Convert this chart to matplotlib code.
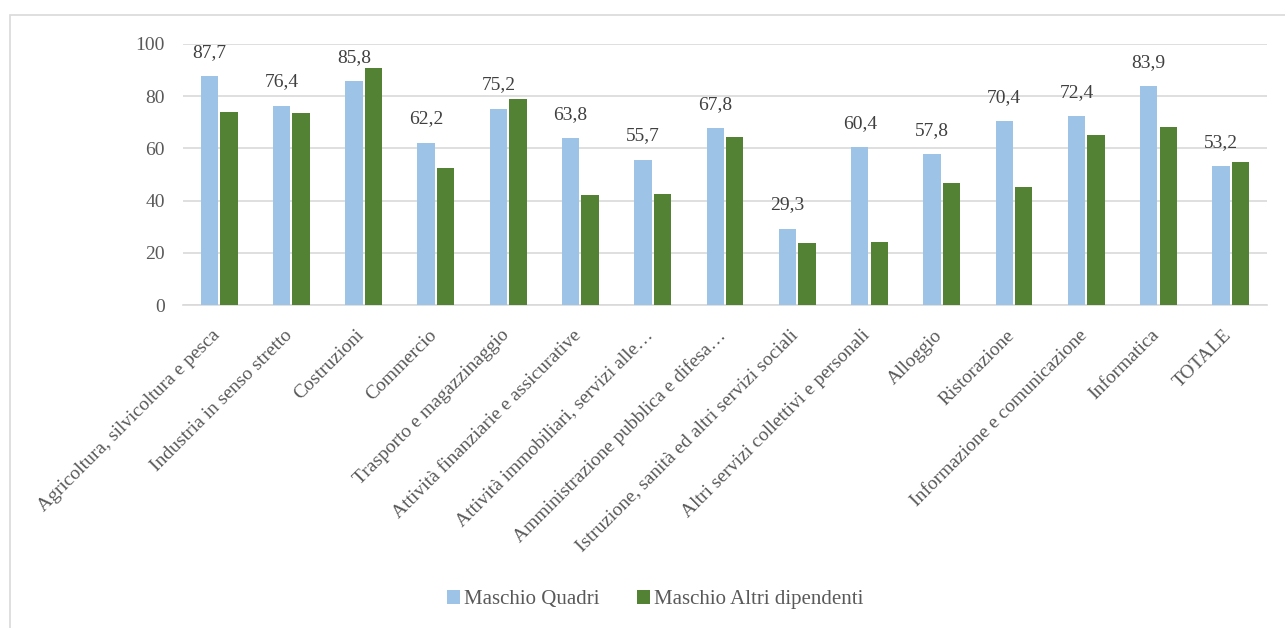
import matplotlib
matplotlib.use("Agg")
import matplotlib.pyplot as plt
import matplotlib.transforms as mtransforms
import numpy as np

categories = [
    "Agricoltura, silvicoltura e pesca",
    "Industria in senso stretto",
    "Costruzioni",
    "Commercio",
    "Trasporto e magazzinaggio",
    "Attività finanziarie e assicurative",
    "Attività immobiliari, servizi alle…",
    "Amministrazione pubblica e difesa…",
    "Istruzione, sanità ed altri servizi sociali",
    "Altri servizi collettivi e personali",
    "Alloggio",
    "Ristorazione",
    "Informazione e comunicazione",
    "Informatica",
    "TOTALE",
]
quadri = [87.7, 76.4, 85.8, 62.2, 75.2, 63.8, 55.7, 67.8, 29.3, 60.4, 57.8, 70.4, 72.4, 83.9, 53.2]
altri = [73.9, 73.6, 90.8, 52.5, 78.9, 42.1, 42.5, 64.2, 23.6, 24.1, 46.6, 45.3, 65.0, 68.1, 54.7]

blue = "#9dc3e6"
green = "#548235"
txt = "#595959"

plt.rcParams["font.family"] = ["Liberation Serif", "DejaVu Serif"]

fig = plt.figure(figsize=(12.85, 6.28), dpi=100)
ax = fig.add_axes([0.1424, 0.5143, 0.8435, 0.4157])

# chart frame
fig.patches.append(plt.Rectangle((10/1285, -0.01), 1.0, 1 - 15/628 + 0.01,
                                 transform=fig.transFigure, fill=False,
                                 edgecolor="#d9d9d9", linewidth=1.2))

x = np.arange(len(categories))
w = 0.24
b1 = ax.bar(x - 0.135, quadri, w, color=blue, label="Maschio Quadri", zorder=3)
b2 = ax.bar(x + 0.135, altri, w, color=green, label="Maschio Altri dipendenti", zorder=3)

labels = [f"{v:.1f}".replace(".", ",") for v in quadri]
ax.bar_label(b1, labels=labels, padding=11, fontsize=14, color="#404040")

ax.set_xlim(-0.5, len(categories) - 0.5)
ax.set_ylim(0, 100)
ax.set_yticks(range(0, 101, 20))
ax.yaxis.grid(True, color="#d9d9d9", linewidth=1.2, zorder=0)
ax.tick_params(axis="y", length=0, labelsize=14, labelcolor=txt, pad=13)
ax.tick_params(axis="x", length=0, labelsize=14, labelcolor=txt, pad=4)
ax.set_xticks(x)
ax.set_xticklabels(categories, rotation=45, ha="right", rotation_mode="anchor")
shift = mtransforms.ScaledTranslation(-8/100, -16/100, fig.dpi_scale_trans)
for lab in ax.get_xticklabels():
    lab.set_transform(lab.get_transform() + shift)
for s in ["top", "right", "left"]:
    ax.spines[s].set_visible(False)
ax.spines["bottom"].set_color("#d9d9d9")
ax.spines["bottom"].set_linewidth(1.2)

fig.legend(handles=[b1, b2], loc="center", bbox_to_anchor=(0.51, 0.045), ncol=2,
           frameon=False, fontsize=15, labelcolor=txt, handlelength=0.6,
           handleheight=0.6, handletextpad=0.2, columnspacing=1.8)

fig.savefig("out.png", dpi=100)
